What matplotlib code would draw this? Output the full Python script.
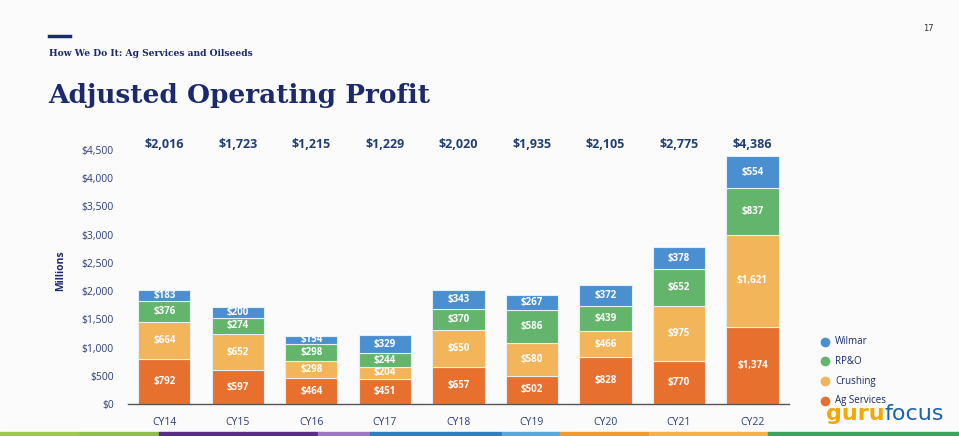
import numpy as np
import matplotlib.pyplot as plt

years = ["CY14", "CY15", "CY16", "CY17", "CY18", "CY19", "CY20", "CY21", "CY22"]
ag_services = [792, 597, 464, 451, 657, 502, 828, 770, 1374]
crushing = [664, 652, 298, 204, 650, 580, 466, 975, 1621]
rpo = [376, 274, 298, 244, 370, 586, 439, 652, 837]
wilmar = [183, 200, 154, 329, 343, 267, 372, 378, 554]
totals = ["$2,016", "$1,723", "$1,215", "$1,229", "$2,020", "$1,935", "$2,105", "$2,775", "$4,386"]

series = [("Ag Services", ag_services, "#E8702F"),
          ("Crushing", crushing, "#F2B55A"),
          ("RP&O", rpo, "#62B56A"),
          ("Wilmar", wilmar, "#4A8FD0")]

navy = "#1B2A6B"
tick_col = "#2E3E78"

fig = plt.figure(figsize=(9.59, 4.36), dpi=100)
fig.patch.set_facecolor("#FBFBFC")
ax = fig.add_axes([0.133, 0.073, 0.69, 0.583])
ax.set_facecolor("#FBFBFC")

x = np.arange(len(years))
bottom = np.zeros(len(years))
for name, vals, col in series:
    vals = np.array(vals, dtype=float)
    ax.bar(x, vals, 0.71, bottom=bottom, color=col, edgecolor="#E4EEF6", linewidth=0.8)
    for xi, b, v in zip(x, bottom, vals):
        ax.text(xi, b + v / 2, f"${int(v):,}", ha="center", va="center",
                color="white", fontsize=7, fontweight="bold", family="Open Sans")
    bottom += vals

ax.set_xlim(-0.5, 8.5)
ax.set_ylim(0, 4500)
ax.set_yticks(range(0, 4501, 500))
ax.set_yticklabels([f"${v:,}" for v in range(0, 4501, 500)])
ax.set_xticks(x)
ax.set_xticklabels(years)
for lab in ax.get_xticklabels() + ax.get_yticklabels():
    lab.set_color(tick_col)
    lab.set_fontsize(7.5)
    lab.set_family("Open Sans")
ax.tick_params(length=0, pad=9)
ax.tick_params(axis="y", pad=10)
for s in ["top", "right", "left"]:
    ax.spines[s].set_visible(False)
ax.spines["bottom"].set_color("#555555")
ax.spines["bottom"].set_linewidth(1)

for xi, t in zip(x, totals):
    ax.text(xi, 4590, t, ha="center", va="center", color="#1F3F74",
            fontsize=9, fontweight="bold", family="Open Sans", clip_on=False)

fig.text(0.063, 0.38, "Millions", rotation=90, ha="center", va="center",
         color=navy, fontsize=7.5, fontweight="bold", family="Open Sans")

# header
fig.add_artist(plt.Line2D([0.051, 0.073], [0.917, 0.917], color=navy, lw=2.5))
fig.text(0.051, 0.878, "How We Do It: Ag Services and Oilseeds", color=navy,
         fontsize=6.6, fontweight="bold", family="DejaVu Serif", va="center")
fig.text(0.050, 0.782, "Adjusted Operating Profit", color=navy,
         fontsize=19, fontweight="bold", family="DejaVu Serif", va="center")
fig.text(0.968, 0.935, "17", color="#333333", fontsize=6, ha="center", va="center")

# legend
for i, (name, vals, col) in enumerate(series[::-1]):
    yy = 0.216 - i * 0.045
    fig.add_artist(plt.Line2D([0.860], [yy], marker="o", color=col, markersize=6, lw=0))
    fig.text(0.871, yy, name, color=navy, fontsize=7, va="center", family="Open Sans")

# logo
fig.text(0.922, 0.036, "guru", color="#F5A800", fontsize=16, fontweight="bold",
         family="DejaVu Sans", ha="right", va="baseline")
fig.text(0.922, 0.036, "focus", color="#1E63A8", fontsize=16,
         family="DejaVu Sans", ha="left", va="baseline")

# bottom color strip
strip = [(0, 80, "#9CC84B"), (80, 159, "#8DC04A"), (159, 318, "#5B2C86"),
         (318, 370, "#9E77C2"), (370, 502, "#2E7FC0"), (502, 560, "#57A9DC"),
         (560, 649, "#F29A2E"), (649, 768, "#F6B24A"), (768, 959, "#3BA55C")]
for a, b, c in strip:
    fig.add_artist(plt.Rectangle((a / 959, 0), (b - a) / 959, 4 / 436,
                                 color=c, transform=fig.transFigure))

fig.savefig("out.png", dpi=100, facecolor=fig.get_facecolor())
